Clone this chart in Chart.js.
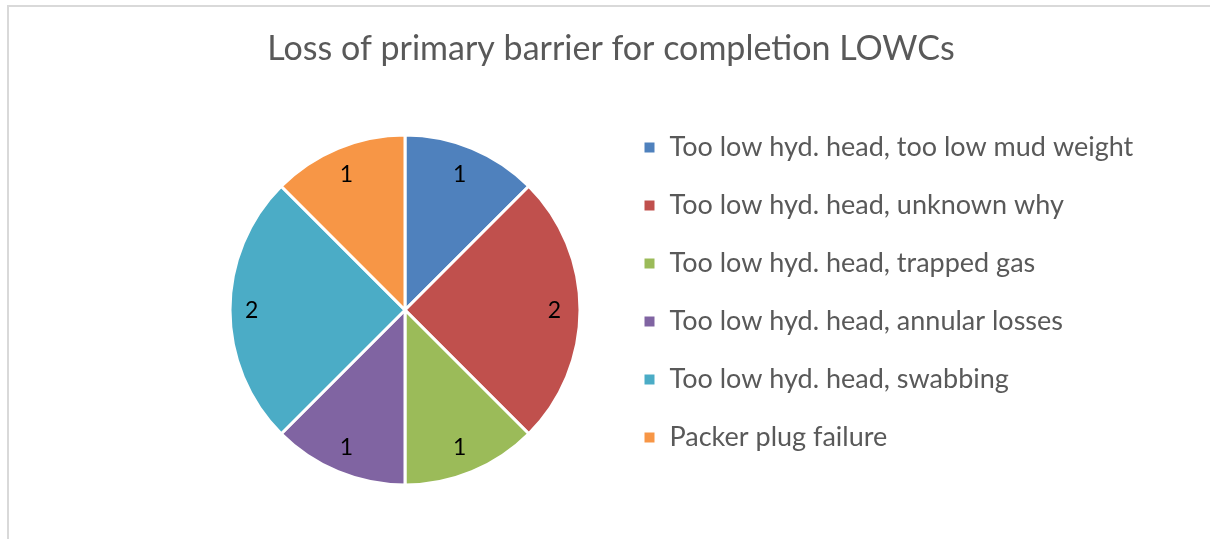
<!DOCTYPE html>
<html>
<head>
<meta charset="utf-8">
<script src="https://cdn.jsdelivr.net/npm/chart.js@4"></script>
<style>
  html, body { margin: 0; padding: 0; background: #fff; overflow: hidden; }
  #frame { position: absolute; left: 7px; top: 5px; width: 1210px; height: 540px;
           border-top: 2px solid #d9d9d9; border-left: 2px solid #d9d9d9; }
  #wrap { position: absolute; left: 0; top: 0; width: 1210px; height: 539px; }
</style>
</head>
<body>
<div id="frame"></div>
<div id="wrap"><canvas id="myChart"></canvas></div>
<script>
var chartTitle = 'Loss of primary barrier for completion LOWCs';
var categories = [
    'Too low hyd. head, too low mud weight',
    'Too low hyd. head, unknown why',
    'Too low hyd. head, trapped gas',
    'Too low hyd. head, annular losses',
    'Too low hyd. head, swabbing',
    'Packer plug failure'
];
var counts = [1, 2, 1, 1, 2, 1];
var colors = ['#4F81BD', '#C0504D', '#9BBB59', '#8064A2', '#4BACC6', '#F79646'];

var fontName = 'Lato, "Open Sans", sans-serif';

// title drawn in the middle of the frame, not of the chart area
var titlePlugin = {
    id: 'frameTitle',
    afterDraw: function (chart) {
        var ctx = chart.ctx;
        ctx.save();
        ctx.font = '34px ' + fontName;
        ctx.fillStyle = '#595959';
        ctx.textAlign = 'center';
        ctx.textBaseline = 'middle';
        ctx.fillText(chartTitle, 611, 49);
        ctx.restore();
    }
};

// legend is wider than the half width chart.js allows, let it run to the edge
var legendWidth = {
    id: 'legendWidth',
    afterLayout: function (chart) {
        var lg = chart.legend;
        lg.right = chart.width;
        lg.width = lg.right - lg.left;
    }
};

// value labels near the outer edge of each slice
var valueLabels = {
    id: 'valueLabels',
    afterDatasetsDraw: function (chart) {
        var ctx = chart.ctx;
        var meta = chart.getDatasetMeta(0);
        ctx.save();
        ctx.font = '23px ' + fontName;
        ctx.fillStyle = '#000';
        ctx.textAlign = 'center';
        ctx.textBaseline = 'middle';
        meta.data.forEach(function (arc, i) {
            var p = arc.getProps(['x', 'y', 'startAngle', 'endAngle', 'outerRadius'], true);
            var mid = (p.startAngle + p.endAngle) / 2;
            var txt = String(counts[i]);
            var halfW = ctx.measureText(txt).width / 2;
            var halfH = 8;
            var a = mid + Math.PI / 2;
            var d = p.outerRadius - 17 - (halfW * Math.abs(Math.sin(a)) + halfH * Math.abs(Math.cos(a)));
            ctx.fillText(txt, p.x + Math.cos(mid) * d - 2, p.y + Math.sin(mid) * d + 1);
        });
        ctx.restore();
    }
};

var ctx = document.getElementById('myChart').getContext('2d');
var myChart = new Chart(ctx, {
    type: 'pie',
    data: {
        labels: categories,
        datasets: [{
            data: counts,
            backgroundColor: colors,
            borderColor: '#ffffff',
            borderWidth: 3
        }]
    },
    options: {
        responsive: true,
        maintainAspectRatio: false,
        animation: false,
        radius: 175,
        layout: {
            padding: { left: 198, right: 184, top: 103, bottom: 22 }
        },
        plugins: {
            title: { display: false },
            tooltip: { enabled: false },
            legend: {
                position: 'right',
                align: 'start',
                labels: {
                    boxWidth: 13,
                    boxHeight: 13,
                    padding: 31,
                    color: '#595959',
                    font: { family: fontName, size: 27 }
                }
            }
        }
    },
    plugins: [legendWidth, titlePlugin, valueLabels]
});
</script>
</body>
</html>
